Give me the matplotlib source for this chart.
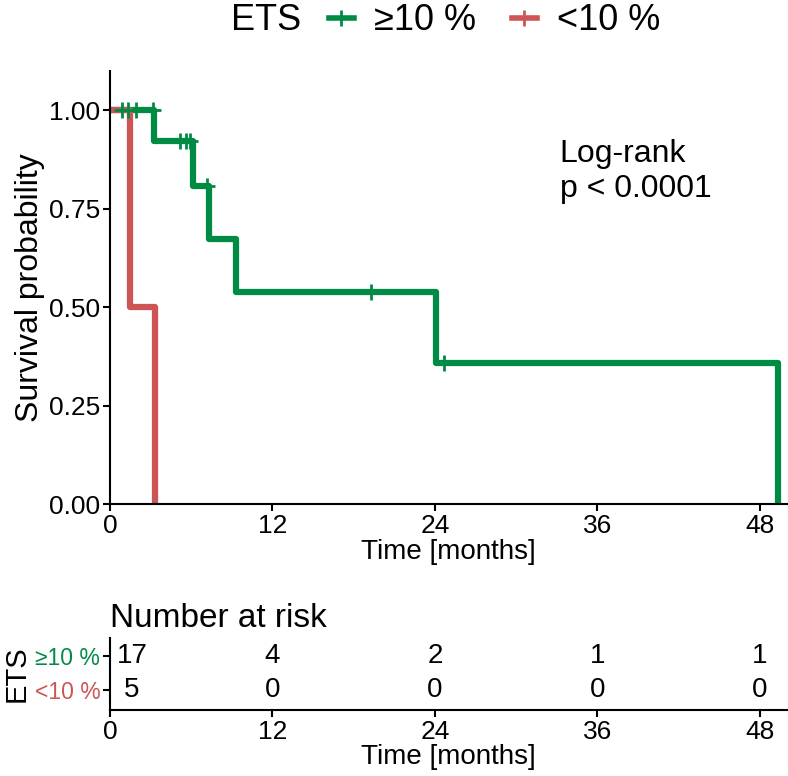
import matplotlib
matplotlib.use("Agg")
import matplotlib.pyplot as plt
import matplotlib.transforms as mtransforms
from matplotlib.lines import Line2D

plt.rcParams['font.family'] = ['Liberation Sans', 'DejaVu Sans']

# Kaplan-Meier curves (step times / survival)
hi_times = [0, 3.25, 6.1, 7.3, 9.3, 24.1, 49.3]
hi_surv = [1.0, 0.923, 0.808, 0.673, 0.538, 0.359, 0.0]
hi_cens_times = [0.9, 1.3, 1.9, 3.2, 5.2, 5.6, 5.9, 7.2, 19.3, 24.7]
hi_cens_surv = [1.0, 1.0, 1.0, 1.0, 0.923, 0.923, 0.923, 0.808, 0.538, 0.359]

lo_times = [0, 1.5, 3.3]
lo_surv = [1.0, 0.5, 0.0]

groups = ["\u226510 %", "<10 %"]
colors = ["#008B45", "#CD5555"]

# number at risk table
risk_times = [0, 12, 24, 36, 48]
risk_hi = [17, 4, 2, 1, 1]
risk_lo = [5, 0, 0, 0, 0]

fig = plt.figure(figsize=(7.88, 7.76), dpi=100)

# main plot
ax = fig.add_axes([110 / 788, 272 / 776, 677 / 788, 433 / 776])
ax.step(hi_times, hi_surv, where="post", color=colors[0], lw=4.5,
        solid_joinstyle="round")
ax.step(lo_times, lo_surv, where="post", color=colors[1], lw=4.5,
        solid_joinstyle="round")
ax.plot(hi_cens_times, hi_cens_surv, ls="none", marker="+", ms=11, mew=2,
        color=colors[0])

ax.set_xlim(0, 50)
ax.set_ylim(0, 1.1)
ax.set_xticks(risk_times)
ax.set_yticks([0, 0.25, 0.5, 0.75, 1.0])
ax.set_yticklabels(["0.00", "0.25", "0.50", "0.75", "1.00"])
ax.tick_params(labelsize=19, length=5, width=1.5, color="black", pad=2)
for s in ["top", "right"]:
    ax.spines[s].set_visible(False)
for s in ["left", "bottom"]:
    ax.spines[s].set_linewidth(1.5)
ax.set_xlabel("Time [months]", fontsize=20, labelpad=1)
ax.set_ylabel("Survival probability", fontsize=23, labelpad=3)

ax.text(33.2, 0.845, "Log-rank\np < 0.0001", fontsize=23, va="center",
        ha="left", linespacing=1.2)

# legend at the top
fig.text(301 / 788, 1 - 21 / 776, "ETS", fontsize=26, ha="right", va="center")
handles = [Line2D([], [], color=c, lw=4, marker="|", ms=12, mew=2)
           for c in colors]
fig.legend(handles, groups, loc="center left",
           bbox_to_anchor=(296 / 788, 1 - 21 / 776), ncol=2, frameon=False,
           fontsize=26, handlelength=0.7, handletextpad=0.55,
           columnspacing=1.0)

# risk table
tab = fig.add_axes([110 / 788, 66 / 776, 677 / 788, 72 / 776])
tab.set_xlim(0, 50)
tab.set_ylim(0.41, 2.53)
offset = mtransforms.ScaledTranslation(22 / 100, 0, fig.dpi_scale_trans)
for i, t in enumerate(risk_times):
    tr = tab.transData + offset if i == 0 else tab.transData
    tab.text(t, 2, str(risk_hi[i]), fontsize=20, ha="center", va="center",
             transform=tr)
    tab.text(t, 1, str(risk_lo[i]), fontsize=20, ha="center", va="center",
             transform=tr)
tab.set_xticks(risk_times)
tab.set_yticks([2, 1])
tab.set_yticklabels(groups)
for lbl, c in zip(tab.get_yticklabels(), colors):
    lbl.set_color(c)
tab.tick_params(axis="y", labelsize=16.5, length=5, width=1.5, pad=2)
tab.tick_params(axis="x", labelsize=19, length=5, width=1.5, pad=2)
for s in ["top", "right"]:
    tab.spines[s].set_visible(False)
for s in ["left", "bottom"]:
    tab.spines[s].set_linewidth(1.5)
tab.set_xlabel("Time [months]", fontsize=20, labelpad=0)
tab.set_ylabel("ETS", fontsize=21, labelpad=3)
tab.set_title("Number at risk", fontsize=24, loc="left", pad=8)

fig.savefig("out.png", dpi=100)
